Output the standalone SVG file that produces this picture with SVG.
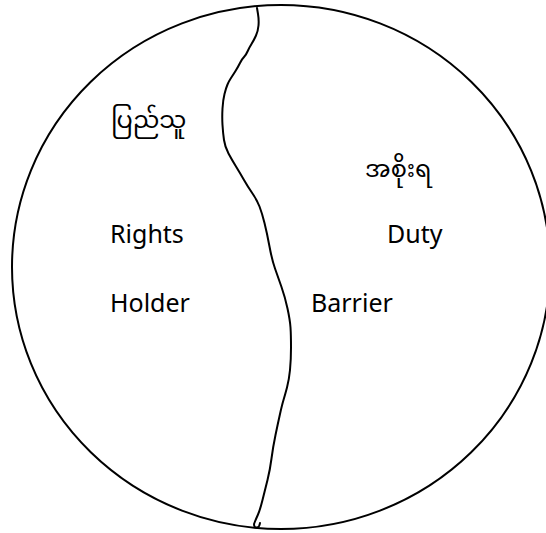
<svg xmlns="http://www.w3.org/2000/svg" width="546" height="533" viewBox="0 0 546 533">
<style>
.line{fill:none;stroke:#000;stroke-width:2;stroke-linecap:round;stroke-linejoin:round}
.en{font-family:"Noto Sans","Open Sans","DejaVu Sans",sans-serif;font-size:25px;fill:#000}
.my{font-family:"Noto Sans Myanmar","Padauk","Myanmar Text","Noto Sans",sans-serif;font-size:24px;fill:#000}
</style>
<rect width="546" height="533" fill="#fff"/>
<g id="circle">
<ellipse class="line" cx="281" cy="267" rx="269" ry="262"/>
</g>
<g id="connectors">
<path class="line" d="M257,8 L258,14 Q259,20 258.5,25.5 Q258,31 256,35.5 Q254,40 251.5,44 Q249,48 247.5,51.5 Q246,55 244,57 Q242,59 240,63 Q238,67 235.5,71 Q233,75 231,78 Q229,81 227.5,84.5 Q226,88 224.5,94 Q223,100 222.5,108.5 Q222,117 222.5,125 Q223,133 224,140 Q225,147 228.5,153.5 Q232,160 236,166.5 Q240,173 244,180 Q248,187 252.5,193.5 Q257,200 259.5,206.5 Q262,213 264.5,223 Q267,233 269.5,246.5 Q272,260 275,268.5 Q278,277 281.5,287 Q285,297 287.5,308.5 Q290,320 290.5,327.5 Q291,335 291,347.5 Q291,360 290,370 Q289,380 287,387.5 Q285,395 283.5,400 Q282,405 280,414 Q278,423 275.5,435 Q273,447 271.5,458.5 Q270,470 267.5,480 Q265,490 262.5,500 Q260,510 258,514.5 Q256,519 255,521.5 L254,524 Q254,528 257,527.5 Q259.5,527 260,523"/>
</g>
<g id="people">
<text class="my" x="111" y="128">ပြည်သူ</text>
<text class="en" x="110" y="243">Rights</text>
<text class="en" x="110" y="312">Holder</text>
</g>
<g id="government">
<text class="my" x="365" y="177">အစိုးရ</text>
<text class="en" x="387" y="243">Duty</text>
<text class="en" x="311" y="312">Barrier</text>
</g>
</svg>
